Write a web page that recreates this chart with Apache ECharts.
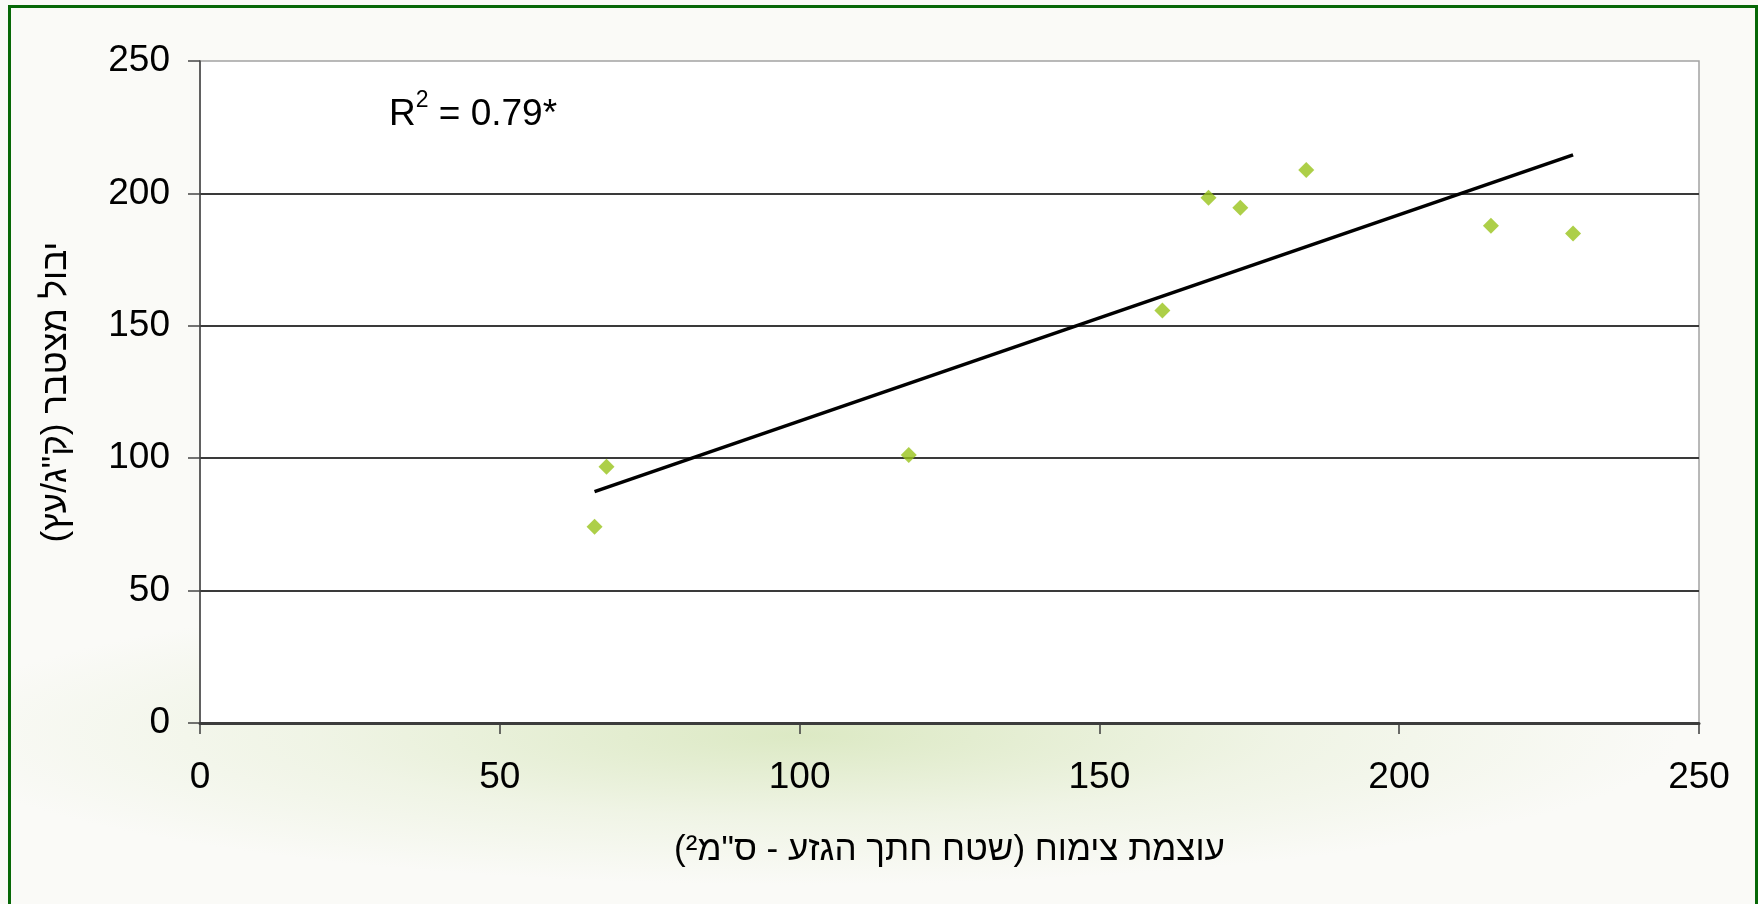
<!DOCTYPE html>
<html>
<head>
<meta charset="utf-8">
<title>יבול מצטבר מול עוצמת צימוח</title>
<script src="https://cdn.jsdelivr.net/npm/echarts@6/dist/echarts.min.js"></script>
<style>
  html, body { margin: 0; padding: 0; }
  body {
    width: 1758px;
    height: 904px;
    position: relative;
    overflow: hidden;
    background:
      radial-gradient(ellipse 880px 150px at 800px 735px, rgba(220, 233, 196, 1), rgba(220, 233, 196, 0.35) 55%, rgba(220, 233, 196, 0) 100%),
      #fafaf7;
  }
  #chart { position: absolute; left: 0; top: 0; width: 1758px; height: 904px; }
  #frame {
    position: absolute;
    left: 8px;
    top: 5px;
    width: 1744px;
    height: 910px;
    border: 3px solid #076807;
    pointer-events: none;
  }
</style>
</head>
<body>
<div id="chart"></div>
<div id="frame"></div>
<script>
// trunk cross-section area (cm^2) vs cumulative yield (kg/tree)
const trunkArea = [65.8, 67.8, 118.2, 160.5, 168.2, 173.5, 184.5, 215.3, 229.0]
const yieldKg = [74.1, 96.8, 101.2, 155.8, 198.4, 194.6, 208.8, 187.8, 184.9]
const axisTicks = [0, 50, 100, 150, 200, 250]
const r2Text = '0.79*'

const xTitle = '\u202Bעוצמת צימוח (שטח חתך הגזע - ס"מ²)\u202C'
const yTitle = '\u202Bיבול מצטבר (ק"ג/עץ)\u202C'

const points = trunkArea.map((x, i) => [x, yieldKg[i]])

// least squares trend line over the data range
const n = trunkArea.length
const mx = trunkArea.reduce((a, b) => a + b, 0) / n
const my = yieldKg.reduce((a, b) => a + b, 0) / n
let sxy = 0
let sxx = 0
trunkArea.forEach((x, i) => {
  sxy += (x - mx) * (yieldKg[i] - my)
  sxx += (x - mx) * (x - mx)
})
const slope = sxy / sxx
const intercept = my - slope * mx
const xMin = Math.min(...trunkArea)
const xMax = Math.max(...trunkArea)
const trend = [
  [xMin, intercept + slope * xMin],
  [xMax, intercept + slope * xMax],
]

const fontFamily = "'Liberation Sans', Arial, 'DejaVu Sans', sans-serif"
const axisMin = axisTicks[0]
const axisMax = axisTicks[axisTicks.length - 1]
const step = axisTicks[1] - axisTicks[0]

const myChart = echarts.init(document.getElementById('chart'), null, { renderer: 'canvas' })

myChart.setOption({
  backgroundColor: 'transparent',
  animation: false,
  grid: {
    left: 200,
    right: 59,
    top: 61,
    bottom: 181,
    show: true,
    backgroundColor: '#ffffff',
    borderColor: '#a3a3a3',
    borderWidth: 1.5,
  },
  xAxis: {
    type: 'value',
    min: axisMin,
    max: axisMax,
    interval: step,
    name: xTitle,
    nameLocation: 'middle',
    nameGap: 110,
    nameTextStyle: { fontFamily, fontSize: 35, color: '#000' },
    axisLine: { show: true, onZero: false, lineStyle: { color: '#3c3c3c', width: 3 } },
    axisTick: { show: true, length: 11, lineStyle: { color: '#3c3c3c', width: 1.5 } },
    axisLabel: { fontFamily, fontSize: 37, color: '#000', margin: 36 },
    splitLine: { show: false },
  },
  yAxis: {
    type: 'value',
    min: axisMin,
    max: axisMax,
    interval: step,
    name: yTitle,
    nameLocation: 'middle',
    nameRotate: 90,
    nameGap: 126,
    nameTextStyle: { fontFamily, fontSize: 35, color: '#000' },
    axisLine: { show: true, onZero: false, lineStyle: { color: '#454545', width: 1.5 } },
    axisTick: { show: true, length: 12, lineStyle: { color: '#454545', width: 1.5 } },
    axisLabel: { fontFamily, fontSize: 37, color: '#000', margin: 30 },
    splitLine: {
      show: true,
      showMinLine: false,
      showMaxLine: false,
      lineStyle: { color: '#3a3a3a', width: 2 },
    },
  },
  graphic: [
    {
      type: 'text',
      left: 389,
      top: 89,
      style: {
        text: '{a|R}{s|2}{a| = ' + r2Text + '}',
        rich: {
          a: { fontFamily, fontSize: 37, color: '#000', lineHeight: 44, verticalAlign: 'bottom' },
          s: { fontFamily, fontSize: 23, color: '#000', lineHeight: 44, verticalAlign: 'top' },
        },
      },
    },
  ],
  series: [
    {
      name: 'trend',
      type: 'line',
      data: trend,
      symbol: 'none',
      lineStyle: { color: '#000000', width: 3.5 },
      z: 2,
    },
    {
      name: 'trees',
      type: 'scatter',
      data: points,
      symbol: 'diamond',
      symbolSize: 16,
      itemStyle: { color: '#99c31a' },
      z: 3,
    },
  ],
})
</script>
</body>
</html>
